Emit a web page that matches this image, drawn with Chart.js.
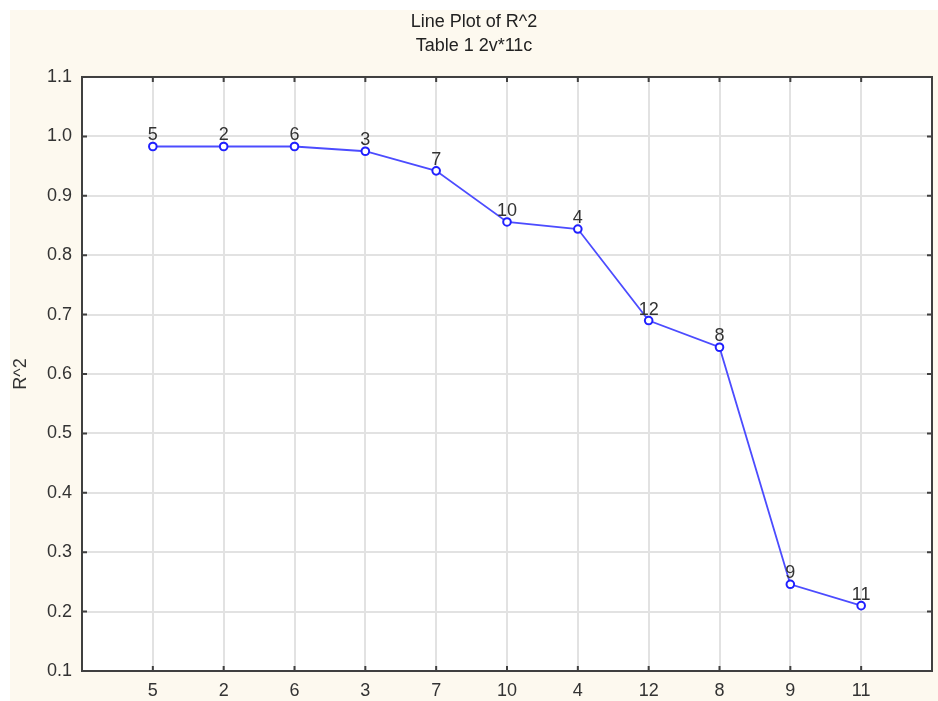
<!DOCTYPE html>
<html>
<head>
<meta charset="utf-8">
<title>Line Plot of R^2</title>
<script src="https://cdn.jsdelivr.net/npm/chart.js@4.4.1/dist/chart.umd.min.js"></script>
<style>
    html, body { margin: 0; padding: 0; background: #ffffff; overflow: hidden; }
    #wrap { width: 938px; height: 701px; position: relative; }
</style>
</head>
<body>
<div id="wrap"><canvas id="r2Chart"></canvas></div>
<script>
// data
const categories = ['5', '2', '6', '3', '7', '10', '4', '12', '8', '9', '11'];
const r2Values = [0.983, 0.983, 0.983, 0.975, 0.942, 0.856, 0.844, 0.690, 0.645, 0.246, 0.210];
const yMin = 0.1;
const yMax = 1.1;
const yStep = 0.1;
const titleLines = ['Line Plot of R^2', 'Table 1 2v*11c'];
const yTitle = 'R^2';

const fontFamily = '"Liberation Sans", Arial, sans-serif';
const cream = '#fdf9ef';
const textColor = '#333333';

const points = r2Values.map((v, i) => ({ x: i, y: v }));

// cream page, white plot box
const backgroundPlugin = {
    id: 'bg',
    beforeDraw(chart) {
        const { ctx, chartArea } = chart;
        ctx.save();
        ctx.fillStyle = '#ffffff';
        ctx.fillRect(0, 0, chart.width, chart.height);
        ctx.fillStyle = cream;
        ctx.fillRect(10, 10, chart.width - 10, chart.height - 10);
        ctx.fillStyle = '#ffffff';
        ctx.fillRect(chartArea.left, chartArea.top, chartArea.right - chartArea.left, chartArea.bottom - chartArea.top);
        ctx.restore();
    }
};

// box round the plot with small inward tick marks
const framePlugin = {
    id: 'frame',
    beforeDatasetsDraw(chart) {
        const { ctx, chartArea, scales } = chart;
        ctx.save();
        ctx.strokeStyle = '#404040';
        ctx.lineWidth = 2;
        ctx.strokeRect(chartArea.left, chartArea.top, chartArea.right - chartArea.left, chartArea.bottom - chartArea.top);
        ctx.beginPath();
        categories.forEach((c, i) => {
            const x = scales.x.getPixelForValue(i);
            ctx.moveTo(x, chartArea.top);
            ctx.lineTo(x, chartArea.top + 5);
            ctx.moveTo(x, chartArea.bottom);
            ctx.lineTo(x, chartArea.bottom - 5);
        });
        scales.y.ticks.forEach(t => {
            const y = scales.y.getPixelForValue(t.value);
            ctx.moveTo(chartArea.left, y);
            ctx.lineTo(chartArea.left + 5, y);
            ctx.moveTo(chartArea.right, y);
            ctx.lineTo(chartArea.right - 5, y);
        });
        ctx.stroke();
        ctx.restore();
    }
};

// case number above each point
const pointLabelPlugin = {
    id: 'pointLabels',
    afterDatasetsDraw(chart) {
        const { ctx } = chart;
        const meta = chart.getDatasetMeta(0);
        ctx.save();
        ctx.font = '18px ' + fontFamily;
        ctx.fillStyle = textColor;
        ctx.textAlign = 'center';
        ctx.textBaseline = 'middle';
        meta.data.forEach((pt, i) => {
            ctx.fillText(categories[i], pt.x, pt.y - 11);
        });
        ctx.restore();
    }
};

new Chart(document.getElementById('r2Chart'), {
    type: 'line',
    data: {
        datasets: [{
            data: points,
            borderColor: '#4c4cff',
            borderWidth: 1.8,
            pointRadius: 3.8,
            pointBorderWidth: 2,
            pointBorderColor: '#2020ff',
            pointBackgroundColor: '#ffffff',
            tension: 0,
            fill: false
        }]
    },
    options: {
        responsive: true,
        maintainAspectRatio: false,
        animation: false,
        layout: { padding: { left: 10, right: 0, top: 0, bottom: 0 } },
        plugins: {
            legend: { display: false },
            tooltip: { enabled: false },
            title: {
                display: true,
                text: titleLines,
                color: '#222222',
                font: { family: fontFamily, size: 18, weight: 'normal', lineHeight: 1.333 },
                padding: { top: 10, bottom: 19 }
            }
        },
        scales: {
            x: {
                type: 'linear',
                min: -1,
                max: categories.length,
                border: { display: false },
                grid: { color: '#e2e2e2', lineWidth: 2, drawTicks: false },
                ticks: {
                    stepSize: 1,
                    autoSkip: false,
                    maxRotation: 0,
                    padding: 9,
                    color: textColor,
                    font: { family: fontFamily, size: 18 },
                    callback: v => categories[v] !== undefined ? categories[v] : ''
                },
                afterFit(scale) {
                    scale.height = 30;
                    scale.paddingLeft = 0;
                    scale.paddingRight = 0;
                }
            },
            y: {
                min: yMin,
                max: yMax,
                border: { display: false },
                grid: { color: '#e2e2e2', lineWidth: 2, drawTicks: false },
                ticks: {
                    stepSize: yStep,
                    padding: 10,
                    color: textColor,
                    font: { family: fontFamily, size: 18 },
                    callback: v => v.toFixed(1)
                },
                title: {
                    display: true,
                    text: yTitle,
                    color: textColor,
                    font: { family: fontFamily, size: 18 },
                    padding: { top: 0, bottom: 0 }
                },
                afterFit(scale) { scale.width = 72; }
            }
        }
    },
    plugins: [backgroundPlugin, framePlugin, pointLabelPlugin]
});
</script>
</body>
</html>
